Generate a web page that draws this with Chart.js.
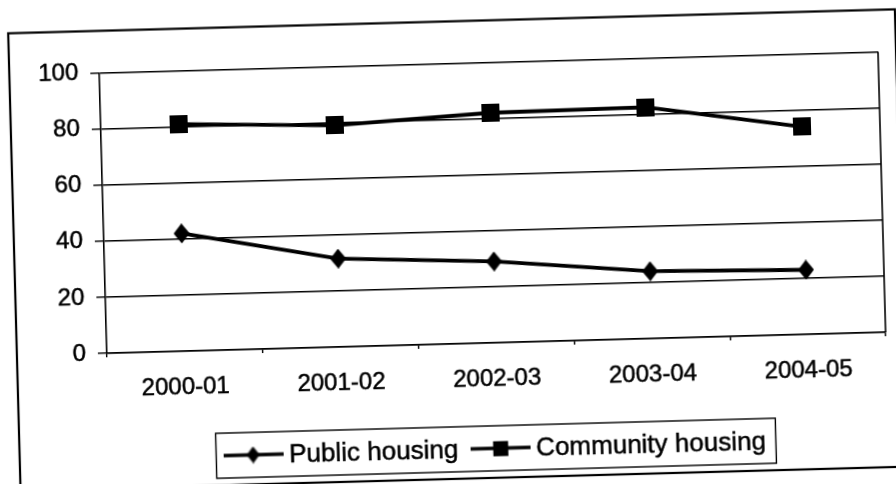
<!DOCTYPE html>
<html>
<head>
<meta charset="utf-8">
<title>Public and community housing</title>
<script src="https://cdn.jsdelivr.net/npm/chart.js@4.4.1/dist/chart.umd.min.js"></script>
<style>
  html, body { margin: 0; padding: 0; background: #fff; overflow: hidden; width: 896px; height: 484px; }
  /* the printed page sits slightly skewed */
  #wrap { position: absolute; left: 0; top: 0; width: 910px; height: 484px;
          transform-origin: 448px 242px; transform: rotate(-1.55deg); }
</style>
</head>
<body>
<div id="wrap"><canvas id="chart" width="910" height="484"></canvas></div>
<script>
// Categories, axis ticks and series
const years = ['2000-01', '2001-02', '2002-03', '2003-04', '2004-05'];
const yTicks = [0, 20, 40, 60, 80, 100];
const publicHousing = [42, 31.5, 29, 24, 23];
const communityHousing = [81, 79, 82, 82.5, 74];

const FONT = '"Liberation Sans", Arial, sans-serif';

// Marker images (Excel style diamond and square)
function makeMarker(shape, w, h) {
    const c = document.createElement('canvas');
    c.width = w;
    c.height = h;
    const g = c.getContext('2d');
    g.fillStyle = '#000';
    g.beginPath();
    if (shape === 'diamond') {
        g.moveTo(w / 2, 0);
        g.lineTo(w, h / 2);
        g.lineTo(w / 2, h);
        g.lineTo(0, h / 2);
        g.closePath();
    } else {
        g.rect(0, 0, w, h);
    }
    g.fill();
    return c;
}

// Legend key: a short line with the marker in the middle
function makeLegendKey(shape, mw, mh) {
    const w = 60, h = 20;
    const c = document.createElement('canvas');
    c.width = w;
    c.height = h;
    const g = c.getContext('2d');
    g.strokeStyle = '#000';
    g.lineWidth = 3.5;
    g.beginPath();
    g.moveTo(0, h / 2);
    g.lineTo(w, h / 2);
    g.stroke();
    g.drawImage(makeMarker(shape, mw, mh), (w - mw) / 2, (h - mh) / 2);
    return c;
}

const diamond = makeMarker('diamond', 16, 20);
const square = makeMarker('square', 18, 18);
const legendKeys = [makeLegendKey('diamond', 13, 17), makeLegendKey('square', 15, 15)];

// Outer chart frame
const framePlugin = {
    id: 'frame',
    beforeDraw(chart) {
        const ctx = chart.ctx;
        ctx.save();
        ctx.strokeStyle = '#000';
        ctx.lineWidth = 2.2;
        ctx.strokeRect(14, 21.5, 887, 457.5);
        ctx.restore();
    },
    beforeDatasetsDraw(chart) {
        // right edge of the plot area
        const a = chart.chartArea;
        const ctx = chart.ctx;
        ctx.save();
        ctx.strokeStyle = '#000';
        ctx.lineWidth = 1.6;
        ctx.beginPath();
        ctx.moveTo(a.right, a.top);
        ctx.lineTo(a.right, a.bottom);
        ctx.stroke();
        ctx.restore();
    }
};

// Boxed legend under the axis
const boxedLegend = {
    id: 'boxedLegend',
    afterDraw(chart) {
        const ctx = chart.ctx;
        const midY = 449.5;
        const left = 210.5;
        let x = left + 7;
        ctx.save();
        ctx.font = '26px ' + FONT;
        ctx.textBaseline = 'middle';
        ctx.fillStyle = '#000';
        ctx.strokeStyle = '#000';
        ctx.lineWidth = 0.5;
        chart.data.datasets.forEach((ds, i) => {
            const key = legendKeys[i];
            ctx.drawImage(key, x, midY - key.height / 2);
            x += key.width + 6;
            ctx.fillText(ds.label, x, midY + 1);
            ctx.strokeText(ds.label, x, midY + 1);
            x += ctx.measureText(ds.label).width + 12;
        });
        const right = x - 12 + 10;
        ctx.lineWidth = 1.4;
        ctx.strokeRect(left, 427, right - left, 45);
        ctx.restore();
    }
};

new Chart(document.getElementById('chart'), {
    type: 'line',
    data: {
        labels: years,
        datasets: [
            {
                label: 'Public housing',
                data: publicHousing,
                borderColor: '#000',
                backgroundColor: '#000',
                borderWidth: 3.8,
                pointStyle: diamond,
                pointRadius: 9,
                tension: 0
            },
            {
                label: 'Community housing',
                data: communityHousing,
                borderColor: '#000',
                backgroundColor: '#000',
                borderWidth: 3.8,
                pointStyle: square,
                pointRadius: 9,
                tension: 0
            }
        ]
    },
    options: {
        responsive: false,
        animation: false,
        events: [],
        layout: {
            padding: { left: 20, right: 27, top: 63.5, bottom: 0 }
        },
        scales: {
            x: {
                offset: true,
                grid: {
                    offset: true,
                    drawOnChartArea: false,
                    color: '#000',
                    lineWidth: 1.4,
                    tickLength: 4
                },
                border: { color: '#000', width: 1.6 },
                ticks: {
                    color: '#000',
                    textStrokeColor: '#000',
                    textStrokeWidth: 0.5,
                    font: { family: FONT, size: 24 },
                    padding: 18,
                    maxRotation: 0,
                    autoSkip: false
                },
                afterFit: function(scale) {
                    scale.height = 140;
                }
            },
            y: {
                min: 0,
                max: 100,
                afterBuildTicks: function(axis) {
                    axis.ticks = yTicks.map(v => ({ value: v }));
                },
                grid: {
                    color: '#000',
                    lineWidth: 1.4,
                    tickLength: 9
                },
                border: { color: '#000', width: 1.6 },
                ticks: {
                    color: '#000',
                    textStrokeColor: '#000',
                    textStrokeWidth: 0.5,
                    font: { family: FONT, size: 24 },
                    padding: 12
                },
                afterFit: function(scale) {
                    scale.width = 84;
                }
            }
        },
        plugins: {
            legend: { display: false },
            tooltip: { enabled: false }
        }
    },
    plugins: [framePlugin, boxedLegend]
});
</script>
</body>
</html>
